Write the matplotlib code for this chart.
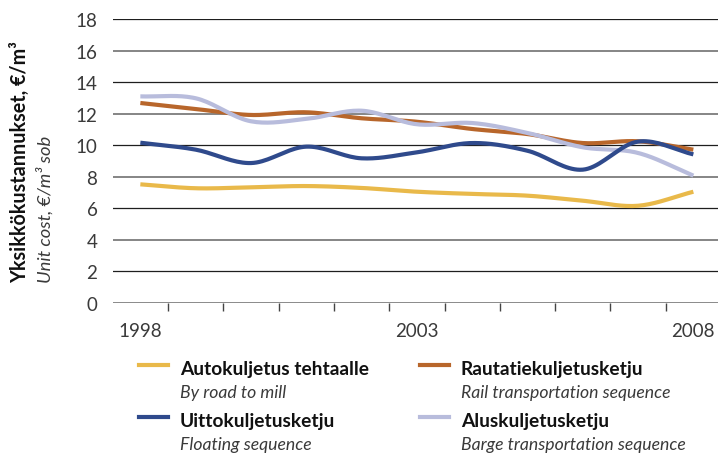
import numpy as np
import matplotlib
matplotlib.use("Agg")
import matplotlib.pyplot as plt
from matplotlib.lines import Line2D

years = list(range(1998, 2009))

road = [7.53, 7.28, 7.34, 7.42, 7.30, 7.06, 6.92, 6.81, 6.49, 6.17, 7.06]
rail = [12.69, 12.31, 11.93, 12.10, 11.72, 11.50, 11.04, 10.72, 10.15, 10.26, 9.73]
floating = [10.17, 9.73, 8.88, 9.92, 9.18, 9.56, 10.15, 9.66, 8.46, 10.24, 9.43]
barge = [13.11, 12.99, 11.53, 11.68, 12.20, 11.34, 11.42, 10.79, 9.88, 9.52, 8.08]

labels_fi = ["Autokuljetus tehtaalle", "Rautatiekuljetusketju",
             "Uittokuljetusketju", "Aluskuljetusketju"]
labels_en = ["By road to mill", "Rail transportation sequence",
             "Floating sequence", "Barge transportation sequence"]
colors = ["#E9B94A", "#B8662B", "#2F4A8C", "#B8BCDC"]
xtick_years = [1998, 2003, 2008]

FONT = "Lato"


def smooth(x, y, n=20):
    # catmull-rom through the yearly points, just for the curved look
    x = np.asarray(x, float)
    y = np.asarray(y, float)
    px = np.concatenate([[2 * x[0] - x[1]], x, [2 * x[-1] - x[-2]]])
    py = np.concatenate([[2 * y[0] - y[1]], y, [2 * y[-1] - y[-2]]])
    xs, ys = [], []
    t = np.linspace(0, 1, n, endpoint=False)
    for i in range(1, len(px) - 2):
        for p, out in ((px, xs), (py, ys)):
            p0, p1, p2, p3 = p[i - 1], p[i], p[i + 1], p[i + 2]
            out.append(0.5 * (2 * p1 + (-p0 + p2) * t
                              + (2 * p0 - 5 * p1 + 4 * p2 - p3) * t ** 2
                              + (-p0 + 3 * p1 - 3 * p2 + p3) * t ** 3))
    xs.append([x[-1]])
    ys.append([y[-1]])
    return np.concatenate(xs), np.concatenate(ys)


fig = plt.figure(figsize=(7.18, 4.56), dpi=100)
ax = fig.add_axes([112.7 / 718, 152 / 456, 1 - 112.7 / 718, 283.7 / 456])

ax.set_xlim(1997.5, 1997.5 + (718 - 112.7) / 55.3)
ax.set_ylim(0, 18)

for v in range(2, 19, 2):
    if v % 4 == 2:
        ax.axhline(v, color="#1e1e1e", lw=0.9, zorder=1)
    else:
        ax.axhline(v, color="#7c7c7c", lw=1.3, zorder=1)
ax.axhline(0, color="#8a8a8a", lw=1.4, zorder=1)

series = [road, rail, barge, floating]
series_colors = [colors[0], colors[1], colors[3], colors[2]]
for vals, c in zip(series, series_colors):
    sx, sy = smooth(years, vals)
    ax.plot(sx, sy, color=c, lw=3.0, solid_capstyle="butt", zorder=3)

for s in ax.spines.values():
    s.set_visible(False)

ax.set_yticks(range(0, 19, 2))
ax.set_yticklabels([str(v) for v in range(0, 19, 2)],
                   fontfamily=FONT, fontsize=13.5, color="#3a3a3a")
ax.tick_params(axis="y", length=0, pad=11)

ax.set_xticks(xtick_years)
ax.set_xticklabels([str(y) for y in xtick_years],
                   fontfamily=FONT, fontsize=13.5, color="#3a3a3a")
ax.set_xticks([y + 0.5 for y in range(1998, 2008)], minor=True)
ax.tick_params(axis="x", which="major", length=0, pad=14)
ax.tick_params(axis="x", which="minor", length=5.5, width=1.0, color="#444444",
               direction="out")

fig.text(20.5 / 718, 1 - 283 / 456, "Yksikkökustannukset, €/m³", rotation=90,
         ha="center", va="bottom", fontfamily=FONT, fontweight="bold",
         fontsize=14.2, color="#111111")
fig.text(45 / 718, 1 - 283 / 456, "Unit cost, €/m³ sob", rotation=90,
         ha="center", va="bottom", fontfamily=FONT, fontstyle="italic",
         fontsize=13.2, color="#3a3a3a")

# legend, two columns with Finnish bold + English italic lines
legend_pos = [(139, 366), (420, 366), (139, 418), (420, 418)]
for (lx, ly), c, fi, en in zip(legend_pos, colors, labels_fi, labels_en):
    fy = 1 - ly / 456
    fig.add_artist(Line2D([lx / 718, (lx + 29) / 718], [fy, fy], color=c,
                          lw=3.0, transform=fig.transFigure))
    tx = (lx + 41) / 718
    fig.text(tx, 1 - (ly + 9) / 456, fi, ha="left", va="baseline",
             fontfamily=FONT, fontweight="bold", fontsize=13.8, color="#111111")
    fig.text(tx, 1 - (ly + 32) / 456, en, ha="left", va="baseline",
             fontfamily=FONT, fontstyle="italic", fontsize=12.7, color="#3a3a3a")

fig.savefig("out.png", dpi=100)
